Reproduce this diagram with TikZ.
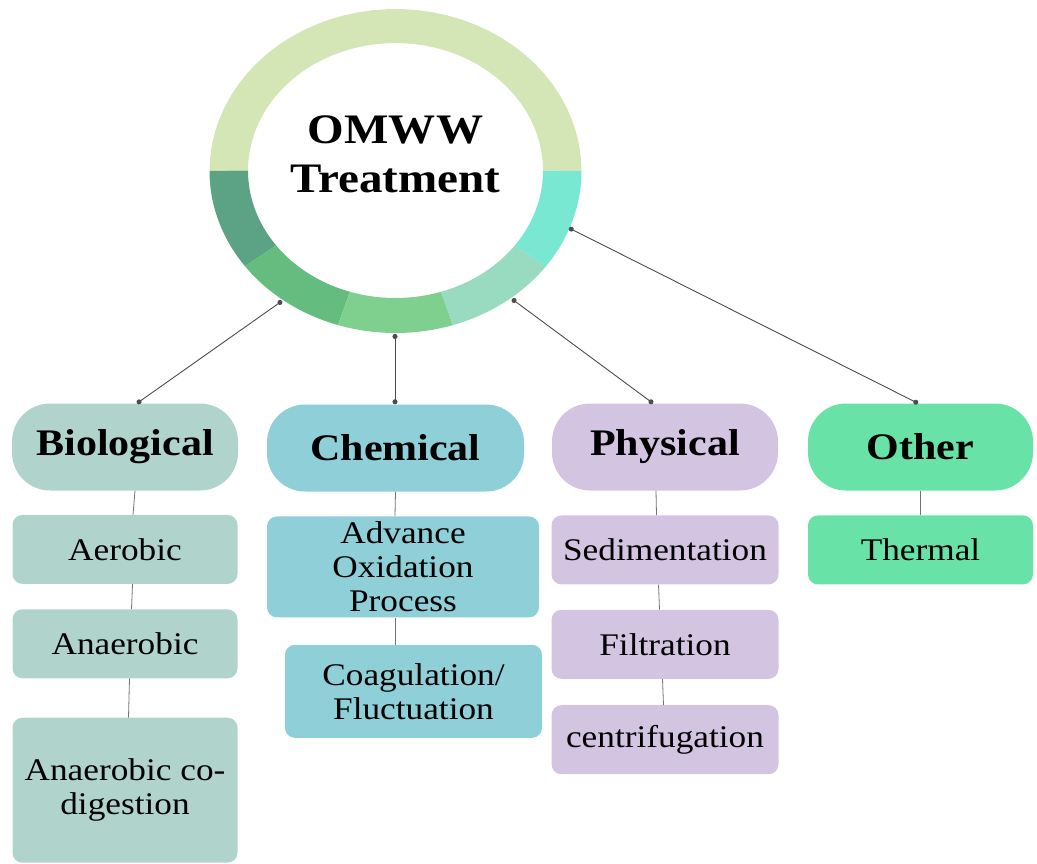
\documentclass[tikz,border=0pt]{standalone}
\usepackage{fontspec}
\setmainfont{Liberation Serif}[FakeStretch=1.12]
\usepackage{xcolor}
\usetikzlibrary{positioning,arrows.meta,calc}
\definecolor{ringtop}{HTML}{D4E6B5}
\definecolor{ringa}{HTML}{5BA384}
\definecolor{ringb}{HTML}{64BD7E}
\definecolor{ringc}{HTML}{7FD08F}
\definecolor{ringd}{HTML}{98DBC0}
\definecolor{ringe}{HTML}{78E8D2}
\definecolor{biocol}{HTML}{B0D4CC}
\definecolor{chemcol}{HTML}{8FD0D8}
\definecolor{physcol}{HTML}{D3C4E2}
\definecolor{othcol}{HTML}{68E2A6}

\begin{document}
\begin{tikzpicture}[x=1pt, y=-1pt,
        head/.style={rectangle, rounded corners=38pt, minimum width=226pt, minimum height=87pt, inner sep=2pt, font=\fontsize{37.5}{40}\selectfont\bfseries},
        sub/.style={rectangle, rounded corners=10pt, minimum width=225pt, minimum height=69pt, inner sep=2pt, align=center, font=\fontsize{31.5}{34}\selectfont},
        link/.style={draw, black!55, line width=0.8pt},
        spoke/.style={draw, black!70, line width=0.9pt, {Circle[length=5pt]}-{Circle[length=5pt]}}]

    \useasboundingbox (0,0) rectangle (1037,863);

    % ring round the title
    \foreach \a/\b/\col in {180/360/ringtop, 144/180/ringa, 108/144/ringb, 72/108/ringc, 36/72/ringd, 0/36/ringe}
        \fill[\col] plot[domain=\a:\b, samples=40] ({395.5+186*cos(\x)}, {171+162*sin(\x)})
            -- plot[domain=\b:\a, samples=40] ({395.5+147.5*cos(\x)}, {170.5+127.5*sin(\x)}) -- cycle;

    \node[font=\fontsize{42}{49}\selectfont\bfseries, align=center] (title) at (395.5,154) {OMWW\\Treatment};

    \coordinate (rbio) at (282,301);
    \coordinate (rchem) at (395,334);
    \coordinate (rphys) at (512,299);
    \coordinate (roth) at (569,228);

    \node[head, fill=biocol] (bio) at (125,447) {Biological};
    \node[head, fill=chemcol, minimum width=257pt] (chem) at (395.5,448) {Chemical};
    \node[head, fill=physcol] (phys) at (665,447) {Physical};
    \node[head, fill=othcol, minimum width=225pt] (oth) at (920.5,447) {Other};

    \node[sub, fill=biocol, below=24pt of bio] (aer) {Aerobic};
    \node[sub, fill=biocol, below=25pt of aer] (ana) {Anaerobic};
    \node[sub, fill=biocol, minimum height=145pt, below=39pt of ana] (cod) {Anaerobic co-\\digestion};

    \node[sub, fill=chemcol, minimum width=272pt, minimum height=101pt, below=24.5pt of chem, xshift=7.5pt] (aop) {Advance\\Oxidation\\Process};
    \node[sub, fill=chemcol, minimum width=257pt, minimum height=93pt, below=27pt of aop, xshift=10.5pt] (coag) {Coagulation/\\Fluctuation};

    \node[sub, fill=physcol, minimum width=227pt, below=24.5pt of phys] (sed) {Sedimentation};
    \node[sub, fill=physcol, minimum width=227pt, below=25pt of sed] (fil) {Filtration};
    \node[sub, fill=physcol, minimum width=227pt, below=26pt of fil] (cen) {centrifugation};

    \node[sub, fill=othcol, below=24.5pt of oth] (thm) {Thermal};

    \path[spoke] (rbio) -- ([xshift=12pt]bio.north);
    \path[spoke] (rchem) -- ([xshift=-0.5pt]chem.north);
    \path[spoke] (rphys) -- ([xshift=-12pt]phys.north);
    \path[spoke] (roth) -- ([xshift=-2.5pt]oth.north);

    \path[link] ([xshift=10pt]bio.south) -- ([xshift=8pt]aer.north);
    \path[link] ([xshift=7.5pt]aer.south) -- ([xshift=6.5pt]ana.north);
    \path[link] ([xshift=4.5pt]ana.south) -- ([xshift=3.5pt]cod.north);
    \path[link] (chem.south) -- ([xshift=-8pt]aop.north);
    \path[link] ([xshift=-8pt]aop.south) -- ([xshift=-18.5pt]coag.north);
    \path[link] ([xshift=-9pt]phys.south) -- ([xshift=-8.5pt]sed.north);
    \path[link] ([xshift=-6.5pt]sed.south) -- ([xshift=-5.5pt]fil.north);
    \path[link] ([xshift=-2.5pt]fil.south) -- ([xshift=-1.5pt]cen.north);
    \path[link] (oth) -- (thm);
\end{tikzpicture}
\end{document}
